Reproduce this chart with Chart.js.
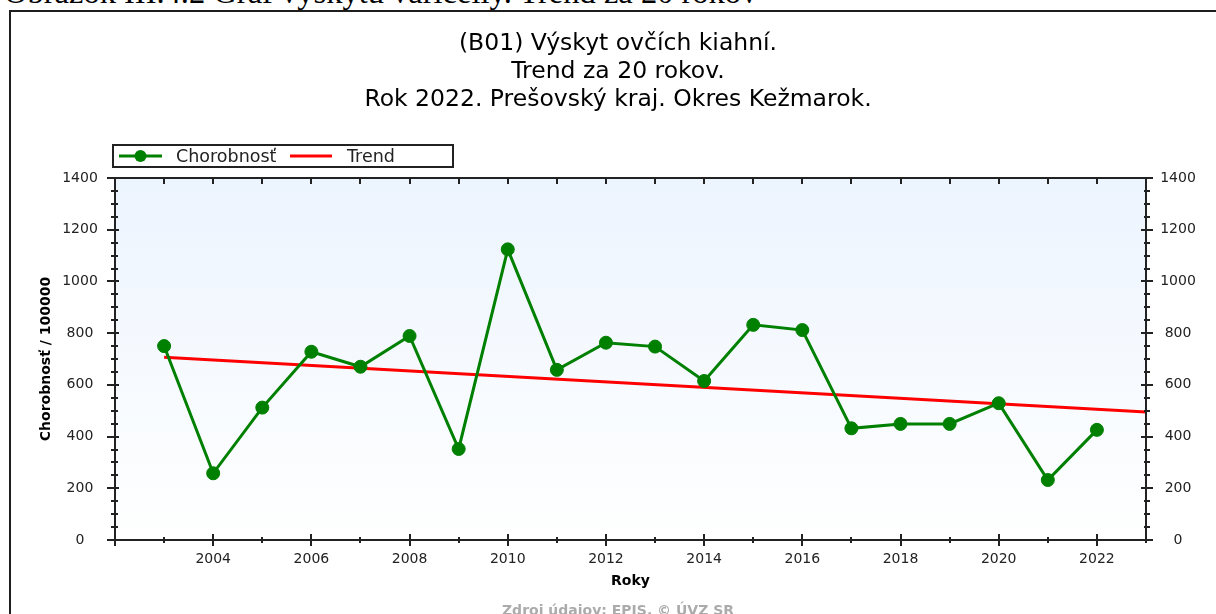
<!DOCTYPE html>
<html lang="sk">
<head>
<meta charset="utf-8">
<script src="https://cdn.jsdelivr.net/npm/chart.js@4.4.1/dist/chart.umd.min.js"></script>
<style>
  html, body { margin: 0; padding: 0; width: 1216px; height: 614px; overflow: hidden; background: #fff; }
  #caption { position: absolute; left: 4px; top: -24px; font: 32.5px/32px 'Liberation Serif', 'Times New Roman', serif; color: #000; white-space: nowrap; }
  #frame { position: absolute; left: 9px; top: 10px; width: 1300px; height: 700px; border-top: 2px solid #1e1e1e; border-left: 2px solid #1e1e1e; }
  #chart { position: absolute; left: 0; top: 0; }
</style>
</head>
<body>
<div id="caption">Obrázok III.4.2 Graf výskytu varicelly. Trend za 20 rokov</div>
<div id="frame"></div>
<canvas id="chart" width="1216" height="640"></canvas>
<script>
// Incidence per 100 000 inhabitants, district Kežmarok
const years = [2003, 2004, 2005, 2006, 2007, 2008, 2009, 2010, 2011, 2012,
               2013, 2014, 2015, 2016, 2017, 2018, 2019, 2020, 2021, 2022];
const incidence = [750, 258, 512, 728, 670, 789, 352, 1124, 658, 763,
                   748, 615, 832, 812, 432, 449, 449, 529, 232, 426];

// Linear trend line end points
const trendYears = [2003, 2023];
const trendValues = [707, 495];

// Axis tick labels
const xTickYears = [2004, 2006, 2008, 2010, 2012, 2014, 2016, 2018, 2020, 2022];
const yTickValues = [0, 200, 400, 600, 800, 1000, 1200, 1400];

const titleLines = ['(B01) Výskyt ovčích kiahní.', 'Trend za 20 rokov.', 'Rok 2022. Prešovský kraj. Okres Kežmarok.'];
const seriesLabels = ['Chorobnosť', 'Trend'];
const xAxisTitle = 'Roky';
const yAxisTitle = 'Chorobnosť / 100000';
const sourceNote = 'Zdroj údajov: EPIS, © ÚVZ SR';

Chart.defaults.font.family = "'DejaVu Sans', Verdana, sans-serif";

const AXIS = '#222';

// Plot background, framed axes with major/minor ticks and the boxed legend
const plotDecor = {
  id: 'plotDecor',
  beforeDraw(chart) {
    const { ctx, chartArea: a } = chart;
    const g = ctx.createLinearGradient(0, a.top, 0, a.bottom);
    g.addColorStop(0, '#ecf4fe');
    g.addColorStop(1, '#ffffff');
    ctx.save();
    ctx.fillStyle = g;
    ctx.fillRect(a.left, a.top, a.right - a.left, a.bottom - a.top);
    ctx.restore();
  },
  afterDatasetsDraw(chart) {
    const { ctx, chartArea: a, scales: { x, y } } = chart;
    const L = Math.round(a.left), R = Math.round(a.right), T = Math.round(a.top), B = Math.round(a.bottom);
    ctx.save();
    ctx.strokeStyle = AXIS;
    ctx.lineWidth = 2;
    ctx.strokeRect(L, T, R - L, B - T);

    const seg = (x1, y1, x2, y2) => { ctx.beginPath(); ctx.moveTo(x1, y1); ctx.lineTo(x2, y2); ctx.stroke(); };

    // value ticks on both vertical axes
    for (let v = y.min; v <= y.max; v += 50) {
      const py = Math.round(y.getPixelForValue(v));
      const major = v % 200 === 0;
      if (major) {
        seg(L - 8, py, L + 4, py);
        seg(R - 5, py, R + 7, py);
      } else {
        seg(L - 4, py, L + 3, py);
        seg(R - 2, py, R + 4, py);
      }
    }
    // year ticks on the bottom axis and the top edge
    for (let yr = Math.ceil(x.min); yr <= x.max; yr++) {
      const px = Math.round(x.getPixelForValue(yr));
      if (yr % 2 === 0) seg(px, B - 6, px, B + 6);
      else seg(px, B - 3, px, B + 3);
      seg(px, T, px, T + 6);
    }
    ctx.restore();
  },
  afterDraw(chart) {
    const { ctx } = chart;
    const ds = chart.data.datasets;
    const lx = 113, ly = 145, lw = 340, lh = 22, cy = ly + lh / 2;
    ctx.save();
    ctx.fillStyle = '#fff';
    ctx.fillRect(lx, ly, lw, lh);
    ctx.strokeStyle = AXIS;
    ctx.lineWidth = 2;
    ctx.strokeRect(lx, ly, lw, lh);

    const items = [
      { x0: 119, x1: 162, tx: 176, marker: true },
      { x0: 290, x1: 332, tx: 347, marker: false }
    ];
    ctx.font = "17.5px 'DejaVu Sans', Verdana, sans-serif";
    ctx.textBaseline = 'middle';
    ctx.textAlign = 'left';
    items.forEach((it, i) => {
      ctx.strokeStyle = ds[i].borderColor;
      ctx.lineWidth = 3;
      ctx.beginPath(); ctx.moveTo(it.x0, cy); ctx.lineTo(it.x1, cy); ctx.stroke();
      if (it.marker) {
        ctx.fillStyle = ds[i].backgroundColor;
        ctx.beginPath(); ctx.arc((it.x0 + it.x1) / 2, cy, 6, 0, Math.PI * 2); ctx.fill();
      }
      ctx.fillStyle = '#222';
      ctx.fillText(ds[i].label, it.tx, cy + 1);
    });
    ctx.restore();
  }
};

const ticksFrom = list => scale => { scale.ticks = list.map(v => ({ value: v })); };
const noGrid = { display: false, drawTicks: false, tickLength: 0 };

new Chart(document.getElementById('chart'), {
  type: 'line',
  data: {
    datasets: [
      {
        label: seriesLabels[0],
        data: years.map((yr, i) => ({ x: yr, y: incidence[i] })),
        borderColor: '#008000',
        backgroundColor: '#008000',
        borderWidth: 3,
        pointRadius: 6.5,
        pointHoverRadius: 6.5,
        pointBorderWidth: 1,
        tension: 0
      },
      {
        label: seriesLabels[1],
        data: trendYears.map((yr, i) => ({ x: yr, y: trendValues[i] })),
        borderColor: '#ff0000',
        backgroundColor: '#ff0000',
        borderWidth: 3,
        pointRadius: 0,
        tension: 0
      }
    ]
  },
  options: {
    responsive: false,
    animation: false,
    devicePixelRatio: 1,
    layout: { padding: { left: 20, right: 0, top: 0, bottom: 20.2 } },
    plugins: {
      legend: { display: false },
      tooltip: { enabled: false },
      title: {
        display: true,
        text: titleLines,
        color: '#000',
        font: { size: 23.5, weight: 'normal', lineHeight: '28px' },
        padding: { top: 30, bottom: 64 }
      },
      subtitle: {
        display: true,
        position: 'bottom',
        text: sourceNote,
        color: '#ababab',
        font: { size: 14, weight: 'bold', lineHeight: '16.8px' },
        padding: { top: 13, bottom: 0 }
      }
    },
    scales: {
      x: {
        type: 'linear',
        position: 'bottom',
        min: 2002,
        max: 2023,
        afterBuildTicks: ticksFrom(xTickYears),
        afterFit: s => { s.height = 50; },
        grid: noGrid,
        border: { display: false },
        ticks: { autoSkip: false, maxRotation: 0, padding: 11, color: '#222', font: { size: 14 }, callback: v => String(v) },
        title: { display: true, text: xAxisTitle, color: '#000', font: { size: 14, weight: 'bold', lineHeight: '16.8px' }, padding: { top: 0, bottom: 0 } }
      },
      y: {
        type: 'linear',
        position: 'left',
        min: 0,
        max: 1400,
        afterBuildTicks: ticksFrom(yTickValues),
        afterFit: s => { s.width = 95; },
        grid: noGrid,
        border: { display: false },
        ticks: { padding: 17.2, crossAlign: 'center', color: '#222', font: { size: 14 }, callback: v => String(v) },
        title: { display: true, text: yAxisTitle, color: '#000', font: { size: 14, weight: 'bold', lineHeight: '16.8px' }, padding: { top: 17.6, bottom: 0 } }
      },
      y2: {
        type: 'linear',
        position: 'right',
        min: 0,
        max: 1400,
        afterBuildTicks: ticksFrom(yTickValues),
        afterFit: s => { s.width = 70; },
        grid: noGrid,
        border: { display: false },
        ticks: { padding: 14.2, crossAlign: 'center', color: '#222', font: { size: 14 }, callback: v => String(v) }
      }
    }
  },
  plugins: [plotDecor]
});
</script>
</body>
</html>
